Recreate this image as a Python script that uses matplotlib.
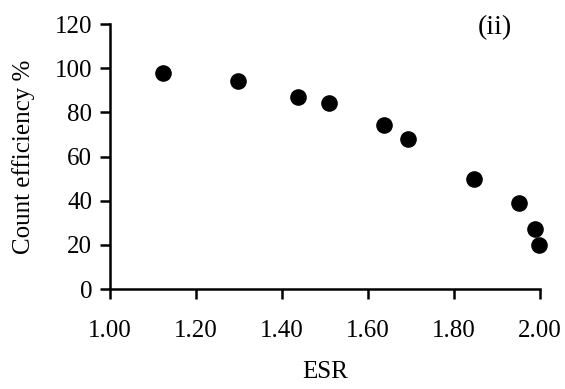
import matplotlib
matplotlib.use("Agg")
import matplotlib.pyplot as plt

# ESR vs. count efficiency, panel (ii)
esr = [1.123, 1.298, 1.436, 1.508, 1.637, 1.692, 1.847, 1.950, 1.988, 1.998]
efficiency = [97.8, 94.2, 87.1, 84.4, 74.1, 67.8, 49.8, 38.8, 27.2, 19.9]

x_ticks = [1.00, 1.20, 1.40, 1.60, 1.80, 2.00]
y_ticks = [0, 20, 40, 60, 80, 100, 120]

plt.rcParams["font.family"] = ["Liberation Serif", "DejaVu Serif"]

fig = plt.figure(figsize=(5.65, 3.89), dpi=100)
ax = fig.add_axes([0.195, 0.257, 0.761, 0.681])

ax.scatter(esr, efficiency, s=120, color="black", zorder=3, clip_on=False)

ax.set_xlim(1.0, 2.0)
ax.set_ylim(0, 120)
ax.set_xticks(x_ticks)
ax.set_xticklabels([f"{v:.2f}" for v in x_ticks])
ax.set_yticks(y_ticks)

for side in ("top", "right"):
    ax.spines[side].set_visible(False)
for side in ("left", "bottom"):
    ax.spines[side].set_linewidth(1.8)

ax.tick_params(axis="both", direction="out", length=7, width=1.8, labelsize=18)
ax.tick_params(axis="x", pad=15)
ax.tick_params(axis="y", pad=6)

ax.set_xlabel("ESR", fontsize=18, labelpad=14)
ax.set_ylabel("Count efficiency %", fontsize=18, labelpad=14)
ax.text(0.895, 0.985, "(ii)", transform=ax.transAxes, fontsize=20,
        ha="center", va="center")

fig.savefig("out.png", dpi=100)
